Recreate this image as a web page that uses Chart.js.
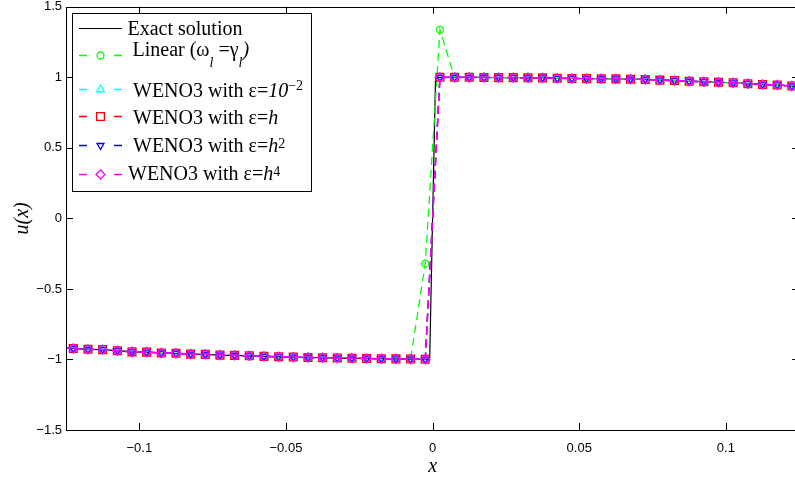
<!DOCTYPE html>
<html>
<head>
<meta charset="utf-8">
<script src="https://cdn.jsdelivr.net/npm/chart.js@4.4.0/dist/chart.umd.min.js"></script>
<style>
    html, body { margin: 0; padding: 0; background: #fff; overflow: hidden; }
    canvas { display: block; }
</style>
</head>
<body>
<canvas id="solutionChart" width="806" height="477"></canvas>
<script>
// Cell centres (h = 0.005) on both sides of the discontinuity
const cellX = [
    -0.1225, -0.1175, -0.1125, -0.1075, -0.1025, -0.0975, -0.0925, -0.0875, -0.0825, -0.0775,
    -0.0725, -0.0675, -0.0625, -0.0575, -0.0525, -0.0475, -0.0425, -0.0375, -0.0325, -0.0275,
    -0.0225, -0.0175, -0.0125, -0.0075, -0.0025,
    0.0025, 0.0075, 0.0125, 0.0175, 0.0225, 0.0275, 0.0325, 0.0375, 0.0425, 0.0475,
    0.0525, 0.0575, 0.0625, 0.0675, 0.0725, 0.0775, 0.0825, 0.0875, 0.0925, 0.0975,
    0.1025, 0.1075, 0.1125, 0.1175, 0.1225
];

// WENO3 results (all four epsilon choices land on the same values)
const wenoU = [
    -0.922, -0.928, -0.930, -0.938, -0.946, -0.948, -0.954, -0.956, -0.962, -0.964,
    -0.969, -0.971, -0.974, -0.978, -0.981, -0.983, -0.986, -0.988, -0.990, -0.991,
    -0.993, -0.995, -0.996, -0.997, -0.999,
    1.000, 1.000, 1.000, 0.999, 0.998, 0.998, 0.997, 0.996, 0.993, 0.992,
    0.991, 0.990, 0.989, 0.987, 0.985, 0.980, 0.977, 0.972, 0.969, 0.965,
    0.961, 0.955, 0.949, 0.946, 0.938
];

// Linear weights: overshoot next to the jump
const linearU = [
    -0.922, -0.928, -0.930, -0.938, -0.946, -0.948, -0.954, -0.956, -0.962, -0.964,
    -0.969, -0.971, -0.974, -0.978, -0.981, -0.983, -0.986, -0.988, -0.990, -0.991,
    -0.993, -0.995, -0.996, -0.997, -0.321,
    1.337, 1.000, 1.000, 0.999, 0.998, 0.998, 0.997, 0.996, 0.993, 0.992,
    0.991, 0.990, 0.989, 0.987, 0.985, 0.980, 0.977, 0.972, 0.969, 0.965,
    0.961, 0.955, 0.949, 0.946, 0.938
];

// Exact solution, with the jump resolved close to x = 0
const exactX = [
    -0.125, -0.1225, -0.1175, -0.1125, -0.1075, -0.1025, -0.0975, -0.0925, -0.0875, -0.0825,
    -0.0775, -0.0725, -0.0675, -0.0625, -0.0575, -0.0525, -0.0475, -0.0425, -0.0375, -0.0325,
    -0.0275, -0.0225, -0.0175, -0.0125, -0.0075, -0.0025, -0.001,
    0.001, 0.0025, 0.0075, 0.0125, 0.0175, 0.0225, 0.0275, 0.0325, 0.0375, 0.0425,
    0.0475, 0.0525, 0.0575, 0.0625, 0.0675, 0.0725, 0.0775, 0.0825, 0.0875, 0.0925,
    0.0975, 0.1025, 0.1075, 0.1125, 0.1175, 0.1225, 0.125
];
const exactU = [
    -0.918, -0.922, -0.928, -0.930, -0.938, -0.946, -0.948, -0.954, -0.956, -0.962,
    -0.964, -0.969, -0.971, -0.974, -0.978, -0.981, -0.983, -0.986, -0.988, -0.990,
    -0.991, -0.993, -0.995, -0.996, -0.997, -0.999, -1.000,
    1.000, 1.000, 1.000, 1.000, 0.999, 0.998, 0.998, 0.997, 0.996, 0.993,
    0.992, 0.991, 0.990, 0.989, 0.987, 0.985, 0.980, 0.977, 0.972, 0.969,
    0.965, 0.961, 0.955, 0.949, 0.946, 0.938, 0.935
];

const xTicks = [-0.1, -0.05, 0, 0.05, 0.1];
const yTicks = [-1.5, -1, -0.5, 0, 0.5, 1, 1.5];

// Legend labels as runs of text (sub/superscripts, italics)
const legendLabels = [
    [{ t: 'Exact solution' }],
    [{ t: 'Linear (ω' }, { t: 'l', it: true, sub: true }, { t: ' =γ' }, { t: 'l', it: true, sub: true }, { t: ')', it: true }],
    [{ t: 'WENO3 with ε=' }, { t: '10', it: true }, { t: '−2', sup: 6.5 }],
    [{ t: 'WENO3 with ε=' }, { t: 'h', it: true }],
    [{ t: 'WENO3 with ε=' }, { t: 'h', it: true }, { t: '2', sup: 4 }],
    [{ t: 'WENO3 with ε=' }, { t: 'h', it: true }, { t: '4', sup: 4 }]
];

function pairs(xs, ys) {
    return xs.map((x, i) => ({ x: x, y: ys[i] }));
}

function fmtTick(v) {
    return v < 0 ? '\u2212' + String(-v) : String(v);
}

function numeric(color, style, radius, order, extra) {
    return Object.assign({
        borderColor: color,
        borderWidth: 1.3,
        borderDash: [8, 5],
        pointStyle: style,
        pointRadius: radius,
        pointBorderColor: color,
        pointBorderWidth: 1.3,
        pointBackgroundColor: 'rgba(0,0,0,0)',
        fill: false,
        tension: 0,
        order: order
    }, extra || {});
}

// Box, inward tick marks and the legend
const framePlugin = {
    id: 'frame',
    afterDraw(chart) {
        const ctx = chart.ctx;
        const a = chart.chartArea;
        const xs = chart.scales.x, ys = chart.scales.y;
        const tl = 7;
        ctx.save();
        ctx.strokeStyle = '#000';
        ctx.lineWidth = 1;
        ctx.setLineDash([]);
        ctx.strokeRect(Math.round(a.left) + 0.5, Math.round(a.top) + 0.5,
            Math.round(a.right - a.left), Math.round(a.bottom - a.top));
        ctx.beginPath();
        xTicks.forEach(v => {
            const px = Math.round(xs.getPixelForValue(v)) + 0.5;
            ctx.moveTo(px, a.bottom); ctx.lineTo(px, a.bottom - tl);
            ctx.moveTo(px, a.top); ctx.lineTo(px, a.top + tl);
        });
        yTicks.forEach(v => {
            const py = Math.round(ys.getPixelForValue(v)) + 0.5;
            ctx.moveTo(a.left, py); ctx.lineTo(a.left + tl, py);
            ctx.moveTo(a.right, py); ctx.lineTo(a.right - tl, py);
        });
        ctx.stroke();

        // legend box
        const box = { x: 72.5, y: 13.5, w: 239, h: 178 };
        ctx.fillStyle = '#fff';
        ctx.fillRect(box.x, box.y, box.w, box.h);
        ctx.strokeRect(box.x, box.y, box.w, box.h);

        const rows = [
            { my: 28.5, tx: 127.5, ty: 35 },
            { my: 55.5, tx: 132.5, ty: 56 },
            { my: 89.5, tx: 133, ty: 96.5 },
            { my: 116.5, tx: 133, ty: 124 },
            { my: 145.5, tx: 133, ty: 151.5 },
            { my: 174.5, tx: 128, ty: 180 }
        ];
        chart.data.datasets.forEach((ds, i) => {
            const r = rows[i];
            ctx.strokeStyle = ds.borderColor;
            ctx.lineWidth = ds.pointRadius ? 1.3 : 1;
            ctx.setLineDash([]);
            ctx.beginPath();
            if (!ds.pointRadius) {
                ctx.moveTo(79, r.my); ctx.lineTo(122, r.my);
            } else {
                ctx.moveTo(79, r.my); ctx.lineTo(87, r.my);
                ctx.moveTo(114, r.my); ctx.lineTo(122, r.my);
            }
            ctx.stroke();
            if (ds.pointRadius) {
                ctx.fillStyle = 'rgba(0,0,0,0)';
                Chart.helpers.drawPoint(ctx, {
                    pointStyle: ds.pointStyle,
                    radius: ds.pointRadius,
                    rotation: ds.pointRotation || 0,
                    borderWidth: 1
                }, 100.5, r.my);
            }
            // label text
            ctx.fillStyle = '#000';
            ctx.textBaseline = 'alphabetic';
            ctx.textAlign = 'left';
            let x = r.tx;
            legendLabels[i].forEach(run => {
                const small = run.sub || run.sup;
                ctx.font = (run.it ? 'italic ' : '') + (small ? 14 : 20) + 'px "Liberation Serif"';
                let dy = 0;
                if (run.sub) dy = 10.5;
                if (run.sup) dy = -run.sup;
                ctx.fillText(run.t, x, r.ty + dy);
                x += ctx.measureText(run.t).width;
            });
        });
        ctx.restore();
    }
};

const tickFont = { family: '"Liberation Sans", Arial, sans-serif', size: 13 };
const titleFont = { family: '"Liberation Serif", "Times New Roman", serif', style: 'italic', size: 20, lineHeight: 1 };

new Chart(document.getElementById('solutionChart'), {
    type: 'line',
    data: {
        datasets: [
            {
                label: 'Exact solution',
                data: pairs(exactX, exactU),
                borderColor: '#000000',
                borderWidth: 1.2,
                pointRadius: 0,
                fill: false,
                tension: 0,
                order: 6
            },
            Object.assign({ label: 'Linear', data: pairs(cellX, linearU) },
                numeric('#00ff00', 'circle', 3.5, 5)),
            Object.assign({ label: 'WENO3 eps=1e-2', data: pairs(cellX, wenoU) },
                numeric('#00ffff', 'triangle', 4.5, 4)),
            Object.assign({ label: 'WENO3 eps=h', data: pairs(cellX, wenoU) },
                numeric('#ff0000', 'rect', 5.5, 3)),
            Object.assign({ label: 'WENO3 eps=h^2', data: pairs(cellX, wenoU) },
                numeric('#0000ff', 'triangle', 4, 2, { pointRotation: 180 })),
            Object.assign({ label: 'WENO3 eps=h^4', data: pairs(cellX, wenoU) },
                numeric('#ff00ff', 'rectRot', 4.5, 1, { borderWidth: 1.6 }))
        ]
    },
    options: {
        responsive: false,
        animation: false,
        events: [],
        layout: { padding: { top: 5, right: 2, left: 0, bottom: 0 } },
        plugins: {
            legend: { display: false },
            tooltip: { enabled: false }
        },
        scales: {
            x: {
                type: 'linear',
                min: -0.125,
                max: 0.125,
                afterBuildTicks: s => { s.ticks = xTicks.map(v => ({ value: v })); },
                afterFit: s => { s.height = 47; s.paddingLeft = 0; s.paddingRight = 0; },
                grid: { display: false, drawTicks: false },
                border: { display: false },
                ticks: { font: tickFont, color: '#000', padding: 11, maxRotation: 0, callback: fmtTick },
                title: { display: true, text: 'x', font: titleFont, color: '#000', padding: { top: 0, bottom: 0 } }
            },
            y: {
                type: 'linear',
                min: -1.5,
                max: 1.5,
                afterBuildTicks: s => { s.ticks = yTicks.map(v => ({ value: v })); },
                afterFit: s => { s.width = 66; s.paddingTop = 0; s.paddingBottom = 0; },
                grid: { display: false, drawTicks: false },
                border: { display: false },
                ticks: { font: tickFont, color: '#000', padding: 4, callback: fmtTick },
                title: { display: true, text: 'u(x)', font: titleFont, color: '#000', padding: { top: 13, bottom: 0 } }
            }
        }
    },
    plugins: [framePlugin]
});
</script>
</body>
</html>
